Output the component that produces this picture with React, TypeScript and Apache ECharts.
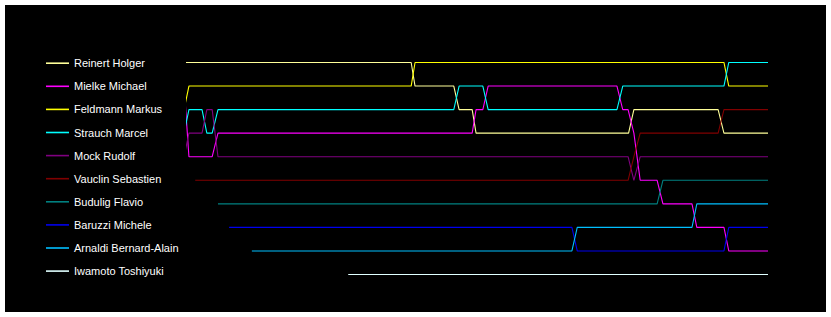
import React, { useEffect, useRef } from "react";
import * as echarts from "echarts";

// Race time (lap units) and position at each change point
const reinertHolger = [[-0.6, 1], [46.3, 1], [47.1, 2], [55.1, 2], [56.2, 3], [58.9, 3], [59.7, 4], [91.2, 4], [92.3, 3], [109.7, 3], [110.9, 4], [120, 4]];
const mielkeMichael = [[-0.6, 2], [0.4, 5], [5.2, 5], [6.4, 4], [58.9, 4], [59.7, 3], [61.1, 3], [62.2, 2], [88.8, 2], [90.0, 3], [91.1, 3], [92.3, 4], [93.6, 6], [97.1, 6], [98.3, 7], [104.3, 7], [105.3, 8], [110.9, 8], [111.9, 9], [120, 9]];
const feldmannMarkus = [[-0.6, 3], [0.4, 2], [46.3, 2], [47.1, 1], [110.9, 1], [111.9, 2], [120, 2]];
const strauchMarcel = [[-0.6, 4], [0.4, 3], [3.1, 3], [4.1, 4], [5.2, 4], [6.4, 3], [55.1, 3], [56.2, 2], [61.1, 2], [62.2, 3], [88.8, 3], [90.0, 2], [110.9, 2], [111.9, 1], [120, 1]];
const mockRudolf = [[-0.6, 5], [0.4, 4], [3.1, 4], [4.1, 3], [5.2, 3], [6.4, 5], [91.1, 5], [92.3, 6], [93.6, 5], [120, 5]];
const vauclinSebastien = [[1.7, 6], [91.1, 6], [92.3, 5], [93.6, 4], [109.7, 4], [110.9, 3], [120, 3]];
const buduligFlavio = [[6.4, 7], [97.1, 7], [98.3, 6], [120, 6]];
const baruzziMichele = [[8.7, 8], [79.5, 8], [80.6, 9], [110.9, 9], [111.9, 8], [120, 8]];
const arnaldiBernardAlain = [[13.4, 9], [79.5, 9], [80.6, 8], [104.3, 8], [105.3, 7], [120, 7]];
const iwamotoToshiyuki = [[33.3, 10], [120, 10]];

const drivers = [
  "Reinert Holger",
  "Mielke Michael",
  "Feldmann Markus",
  "Strauch Marcel",
  "Mock Rudolf",
  "Vauclin Sebastien",
  "Budulig Flavio",
  "Baruzzi Michele",
  "Arnaldi Bernard-Alain",
  "Iwamoto Toshiyuki",
];
const driverData = [
  reinertHolger,
  mielkeMichael,
  feldmannMarkus,
  strauchMarcel,
  mockRudolf,
  vauclinSebastien,
  buduligFlavio,
  baruzziMichele,
  arnaldiBernardAlain,
  iwamotoToshiyuki,
];
const driverColors = [
  "#ffff99",
  "#ff00ff",
  "#ffff00",
  "#00ffff",
  "#800080",
  "#800000",
  "#008080",
  "#0000ee",
  "#00bfff",
  "#e0ffff",
];

export default function App() {
  const ref = useRef<HTMLDivElement>(null);
  useEffect(() => {
    if (!ref.current) return;
    const chart = echarts.init(ref.current, null, { renderer: "svg" });
    chart.setOption({
      animation: false,
      backgroundColor: "#000000",
      textStyle: { fontFamily: "'Liberation Sans', Arial, sans-serif" },
      legend: {
        orient: "vertical",
        left: 36,
        top: 47.7,
        itemWidth: 23,
        itemHeight: 14,
        itemGap: 12.1,
        icon: "path://M0,0L23,0L23,1.6L0,1.6Z",
        textStyle: { color: "#ffffff", fontSize: 11 },
        data: drivers,
      },
      grid: { left: 182, right: 58, top: 45.7, bottom: 25.7 },
      xAxis: { type: "value", min: 0, max: 120, show: false, splitLine: { show: false } },
      yAxis: { type: "value", inverse: true, min: 0.5, max: 10.5, show: false, splitLine: { show: false } },
      series: drivers.map((name, i) => ({
        name,
        type: "line",
        data: driverData[i],
        symbol: "none",
        clip: true,
        color: driverColors[i],
        itemStyle: { color: driverColors[i] },
        lineStyle: { width: 1.1, color: driverColors[i] },
        emphasis: { disabled: true },
      })),
    });
    return () => chart.dispose();
  }, []);
  return (
    <div
      ref={ref}
      style={{ position: "fixed", left: 5, top: 5, width: 821, height: 307 }}
    />
  );
}
